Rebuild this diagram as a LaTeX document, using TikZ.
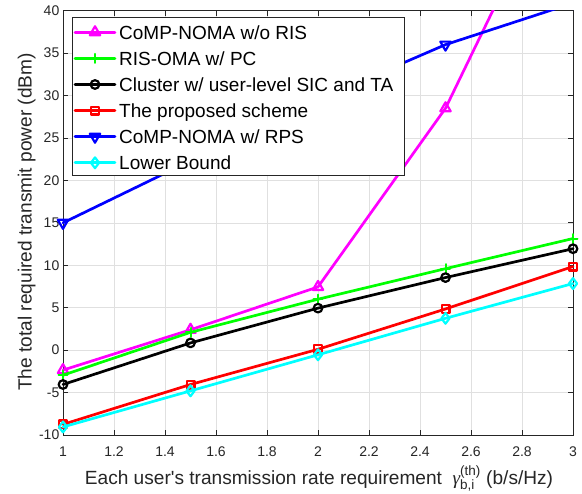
\documentclass[tikz,border=0pt]{standalone}
\usepackage{fontspec}
\setmainfont{Liberation Sans}[Ligatures=TeXOff]
\newfontfamily\grkfont{Liberation Serif}
\usetikzlibrary{plotmarks}

\definecolor{axisgray}{gray}{0.15}
\definecolor{gridgray}{gray}{0.88}
\definecolor{mplmagenta}{rgb}{1,0,1}
\definecolor{mplgreen}{rgb}{0,1,0}
\definecolor{mplcyan}{rgb}{0,1,1}
\definecolor{mplblue}{rgb}{0,0,1}
\definecolor{mplred}{rgb}{1,0,0}

\begin{document}
\begin{tikzpicture}[x=1pt,y=-1pt,
  ticklabel/.style={font=\fontsize{14}{16}\selectfont, text=axisgray, inner sep=0pt},
  axislabel/.style={font=\fontsize{19.1}{22}\selectfont, text=axisgray, inner sep=0pt},
  legtext/.style={font=\fontsize{19}{22}\selectfont, text=black, inner sep=0pt, anchor=base west},
  curve/.style={line width=2.7pt, line join=round, line cap=round},
  sMag/.style={curve, mplmagenta, mark=triangle, mark size=6pt, mark options={line width=2.2pt, solid}},
  sGrn/.style={curve, mplgreen, mark=+, mark size=4.5pt, mark options={line width=2pt, solid}},
  sBlk/.style={curve, black, mark=o, mark size=4.3pt, mark options={line width=2.2pt, solid}},
  sRed/.style={curve, mplred, mark=square, mark size=3.9pt, mark options={line width=2.2pt, solid}},
  sBlu/.style={curve, mplblue, mark=triangle, mark size=6pt, mark options={line width=2.2pt, solid, rotate=180}},
  sCyn/.style={curve, mplcyan, mark=diamond, mark size=5.4pt, mark options={line width=2.2pt, solid}},
]
\useasboundingbox (0,0) rectangle (582,494);
\fill[white] (0,0) rectangle (582,494);

% ---------- axes in data coordinates ----------
\begin{scope}[shift={(-192,350.14)}, x=255pt, y=8.486pt]
  % grid
  \foreach \gx in {1.2,1.4,1.6,1.8,2,2.2,2.4,2.6,2.8}
    \draw[gridgray, line width=0.6pt] (\gx,-10) -- (\gx,40);
  \foreach \gy in {-5,0,5,10,15,20,25,30,35}
    \draw[gridgray, line width=0.6pt] (1,\gy) -- (3,\gy);

  % box and ticks
  \draw[axisgray, line width=0.8pt] (1,-10) rectangle (3,40);
  \foreach \gx in {1.2,1.4,1.6,1.8,2,2.2,2.4,2.6,2.8} {
    \draw[axisgray, line width=0.8pt] (\gx,-10) -- ++(0pt,5pt);
    \draw[axisgray, line width=0.8pt] (\gx,40) -- ++(0pt,-5pt);
  }
  \foreach \gy in {-5,0,5,10,15,20,25,30,35} {
    \draw[axisgray, line width=0.8pt] (1,\gy) -- ++(5pt,0pt);
    \draw[axisgray, line width=0.8pt] (3,\gy) -- ++(-5pt,0pt);
  }

  % tick labels
  \foreach \gx [count=\i] in {1,1.2,1.4,1.6,1.8,2,2.2,2.4,2.6,2.8,3}
    \node[ticklabel, anchor=north] (xt\i) at ([yshift=-12pt]\gx,-10) {\gx};
  \foreach \gy [count=\i] in {-10,-5,0,5,10,15,20,25,30,35,40}
    \node[ticklabel, anchor=east] (yt\i) at ([xshift=-3.5pt]1,\gy) {\gy};

  % data
  \begin{scope}
    \clip ([xshift=-12pt]1,-12) rectangle ([xshift=12pt]3,40);
    \draw[sMag] plot coordinates {(1,-2.35) (1.5,2.4) (2,7.45) (2.5,28.5) (3,59.5)};
    \draw[sGrn] plot coordinates {(1,-2.95) (1.5,2.1) (2,6.0) (2.5,9.6) (3,13.15)};
    \draw[sBlk] plot coordinates {(1,-4.05) (1.5,0.85) (2,4.95) (2.5,8.55) (3,11.95)};
    \draw[sRed] plot coordinates {(1,-8.75) (1.5,-4.05) (2,0.1) (2.5,4.85) (3,9.85)};
    \draw[sBlu] plot coordinates {(1,15) (1.5,22.3) (2,29.5) (2.5,36) (3,40.9)};
    \draw[sCyn] plot coordinates {(1,-9.05) (1.5,-4.8) (2,-0.55) (2.5,3.75) (3,7.85)};
  \end{scope}
\end{scope}

% ---------- axis labels ----------
\node[axislabel, rotate=90, anchor=base] (ylab) at (31.5,222)
  {The total required transmit power (dBm)};
\node[axislabel, anchor=base] (xlab) at (319,485)
  {Each user's transmission rate requirement\ \ {\grkfont\itshape γ}$^{\hbox{\fontsize{13.5}{13.5}\selectfont (th)}}_{\hbox{\fontsize{13.5}{13.5}\selectfont b,i}}$ (b/s/Hz)};

% ---------- legend ----------
\draw[axisgray, fill=white, line width=0.8pt] (72,17) rectangle (404,175);
\foreach \sty/\ly/\txt [count=\i] in {
    sMag/32.3/{CoMP-NOMA w/o RIS},
    sGrn/58.4/{RIS-OMA w/ PC},
    sBlk/84.5/{Cluster w/ user-level SIC and TA},
    sRed/110.6/{The proposed scheme},
    sBlu/136.7/{CoMP-NOMA w/ RPS},
    sCyn/162.8/{Lower Bound}} {
  \draw[\sty, mark indices={2}] plot coordinates {(75,\ly) (95,\ly) (115,\ly)};
  \node[legtext] (leg\i) at (119,\ly+7) {\txt};
}
\end{tikzpicture}
\end{document}
